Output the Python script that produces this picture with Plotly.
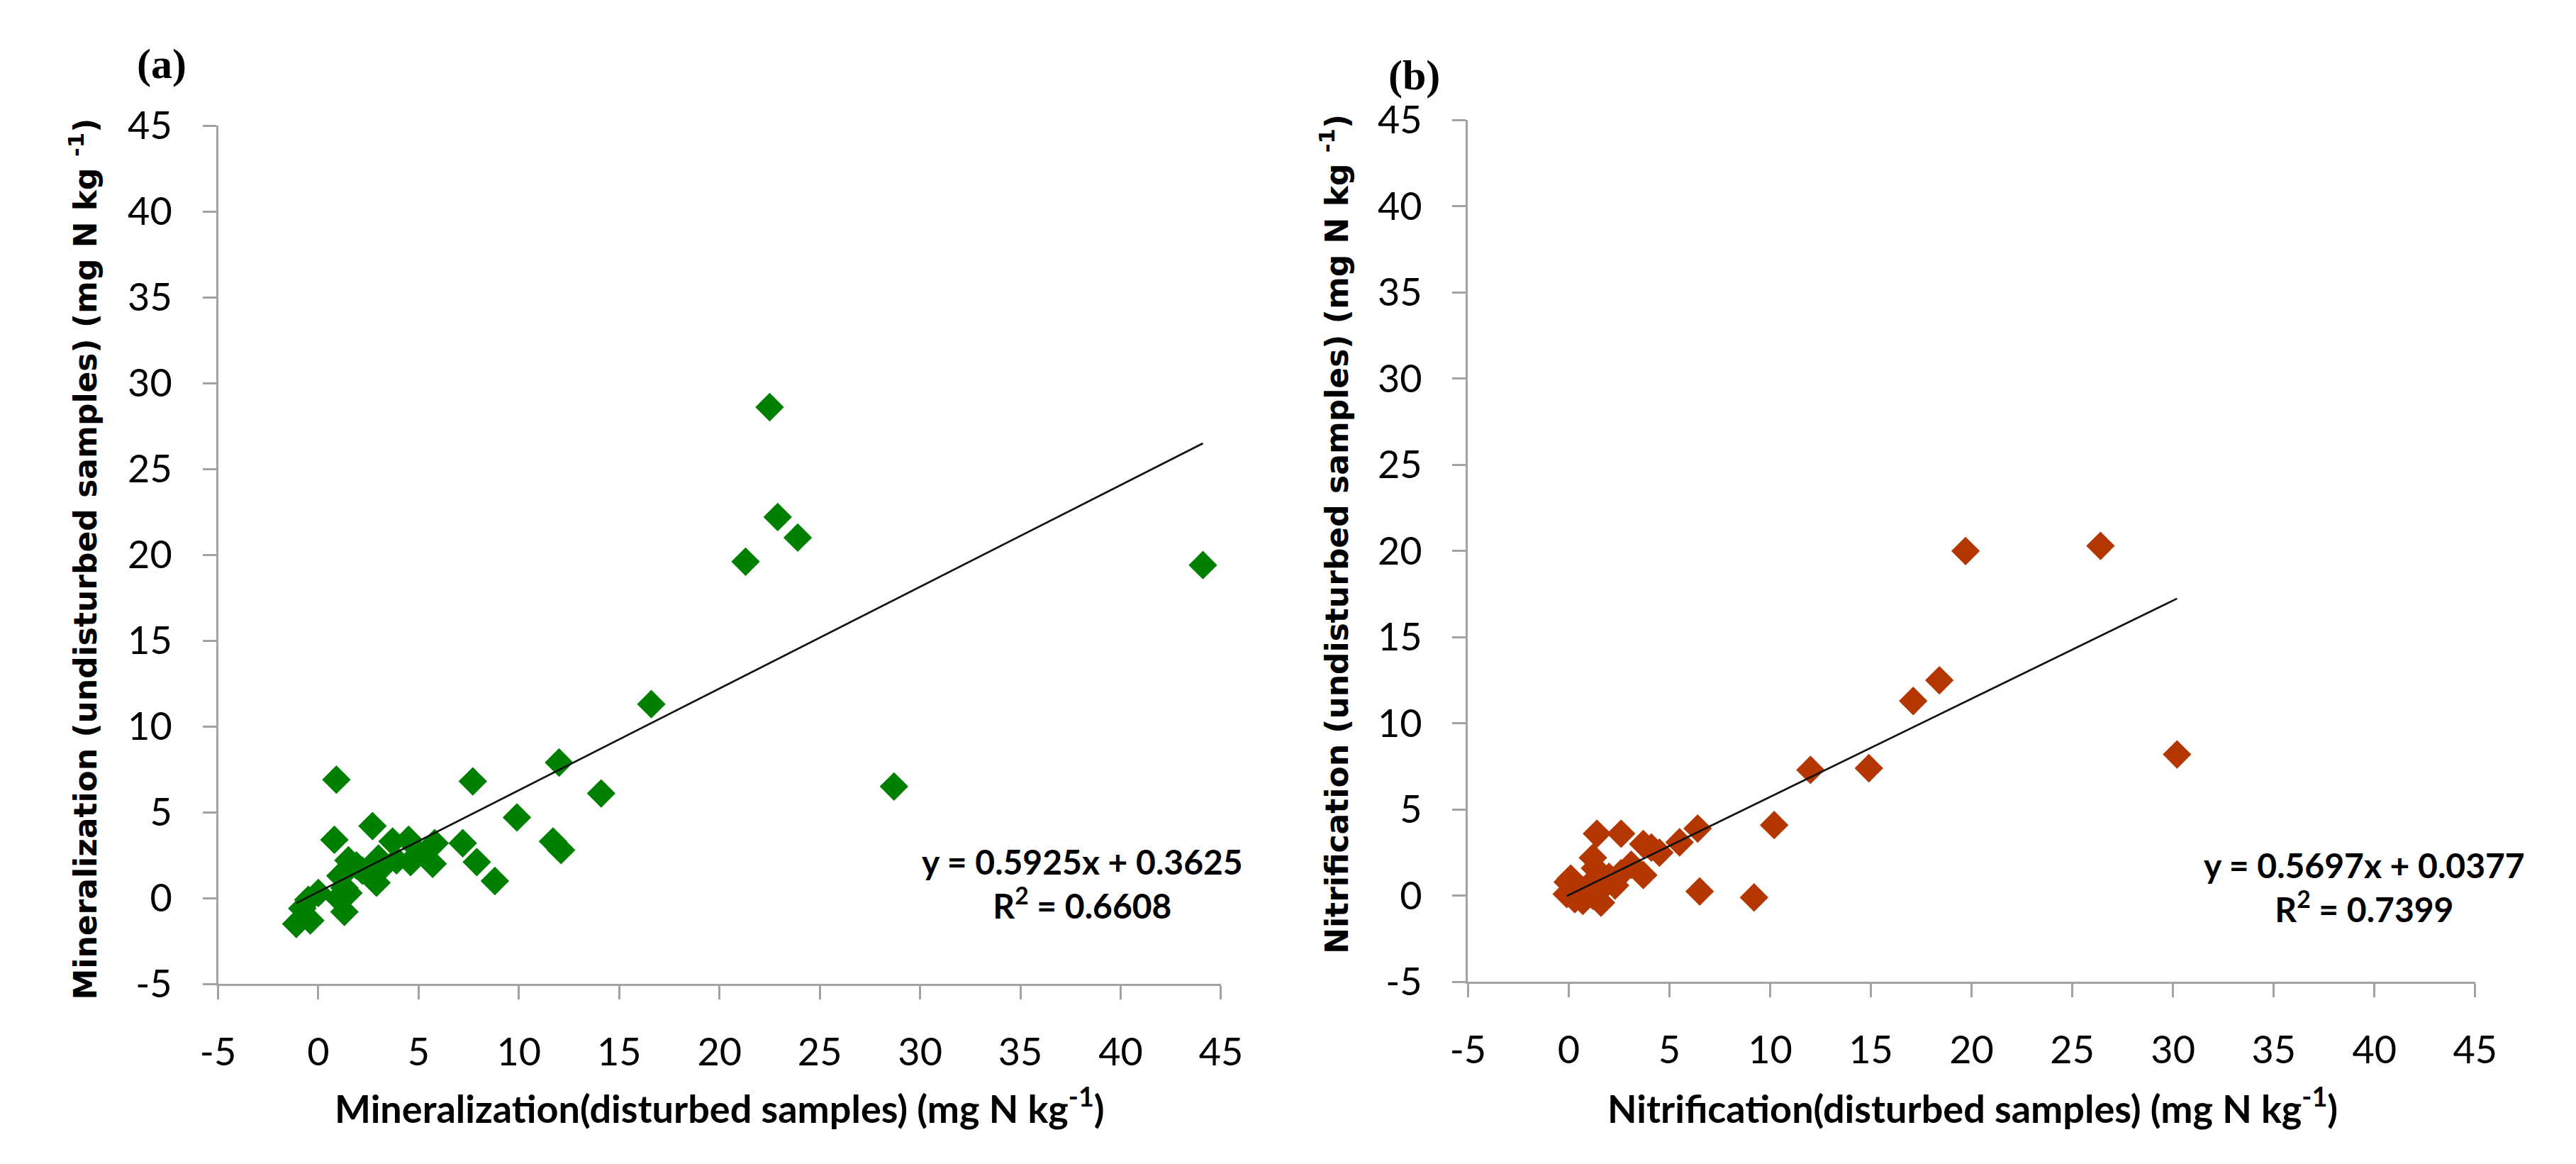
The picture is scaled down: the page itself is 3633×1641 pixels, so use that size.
import plotly.graph_objects as go

# ---------------- data ----------------
min_dist = [-1.1, -0.4, -0.8, -0.5, 0.0, 1.3, 1.0, 1.5, 1.3, 1.1, 1.4, 1.5, 1.9, 2.2,
            0.8, 0.9, 2.7, 2.9, 3.0, 3.1, 3.7, 3.9, 4.5, 4.6, 5.0, 5.7, 5.8, 7.2,
            7.7, 7.9, 8.8, 9.9, 11.7, 12.1, 12.0, 14.1, 16.6, 21.3, 22.5, 22.9,
            23.9, 28.7, 44.1]
min_undist = [-1.5, -1.3, -0.6, -0.1, 0.3, -0.8, 0.0, 0.3, 0.6, 1.3, 1.6, 2.2, 1.9, 1.6,
              3.4, 6.9, 4.2, 0.9, 2.3, 1.7, 3.3, 2.2, 3.4, 2.1, 2.6, 2.0, 3.2, 3.2,
              6.8, 2.1, 1.0, 4.7, 3.3, 2.8, 7.9, 6.1, 11.3, 19.6, 28.6, 22.2,
              21.0, 6.5, 19.4]

nit_dist = [-0.1, -0.05, 0.1, 0.3, 0.7, 0.6, 1.0, 1.2, 1.3, 1.2, 1.6, 1.7, 2.0, 1.4,
            2.6, 2.6, 2.3, 3.1, 3.7, 3.7, 4.1, 4.5, 5.5, 6.4, 6.5, 9.2, 10.2, 12.0,
            14.9, 17.1, 18.4, 19.7, 26.4, 30.2]
nit_undist = [0.1, 0.8, 1.0, -0.2, -0.3, 0.4, 0.6, 2.2, 1.6, 0.0, -0.4, 0.5, 1.1, 3.6,
              3.6, 1.3, 0.6, 1.8, 1.2, 3.0, 2.8, 2.5, 3.1, 3.9, 0.25, -0.1, 4.1, 7.3,
              7.4, 11.3, 12.5, 20.0, 20.3, 8.2]

fit_a = (0.5925, 0.3625, 0.6608)
fit_b = (0.5697, 0.0377, 0.7399)

tick_vals = [-5, 0, 5, 10, 15, 20, 25, 30, 35, 40, 45]
tick_text = ["-5", "0", "5", "10", "15", "20", "25", "30", "35", "40", "45"]

xtitle_a = "Mineralization(disturbed samples) (mg N kg<sup>-1</sup>)"
ytitle_a = "Mineralization (undisturbed samples) (mg N kg <sup>-1</sup>)"
xtitle_b = "Nitrification(disturbed samples) (mg N kg<sup>-1</sup>)"
ytitle_b = "Nitrification (undisturbed samples) (mg N kg <sup>-1</sup>)"

GREEN = "#008000"
BROWN = "#B43600"
AXC = "#A3A3A3"
FONT = "Lato"

W, H = 3633, 1641

fig = go.Figure()


def add_panel(xs, ys, fit, color, xa, ya):
    fig.add_trace(go.Scatter(
        x=xs, y=ys, mode="markers", xaxis=xa, yaxis=ya,
        marker=dict(symbol="diamond", size=31, color=color, line=dict(width=0)),
        showlegend=False, cliponaxis=False))
    slope, icpt, _ = fit
    x0, x1 = min(xs), max(xs)
    fig.add_trace(go.Scatter(
        x=[x0, x1], y=[slope * x0 + icpt, slope * x1 + icpt], mode="lines",
        xaxis=xa, yaxis=ya, line=dict(color="#111111", width=2.6),
        showlegend=False))


add_panel(min_dist, min_undist, fit_a, GREEN, "x", "y")
add_panel(nit_dist, nit_undist, fit_b, BROWN, "x2", "y2")

axis_common = dict(
    range=[-5, 45], tickvals=tick_vals, ticktext=tick_text,
    showgrid=False, zeroline=False,
    showline=True, linecolor=AXC, linewidth=3, ticks="outside",
    ticklen=19, tickwidth=3, tickcolor=AXC,
    tickfont=dict(family=FONT, size=54, color="#000000"),
)

fig.update_layout(
    width=W, height=H,
    margin=dict(l=0, r=0, t=0, b=0),
    paper_bgcolor="white", plot_bgcolor="white",
    xaxis=dict(domain=[286 / W, 1723 / W], anchor="y", ticklabelstandoff=28, **axis_common),
    yaxis=dict(domain=[1 - 1409 / H, 1 - 149 / H], anchor="x",
               ticklabelstandoff=32, **axis_common),
    xaxis2=dict(domain=[2077 / W, 3520 / W], anchor="y2", ticklabelstandoff=28, **axis_common),
    yaxis2=dict(domain=[1 - 1406 / H, 1 - 141 / H], anchor="x2",
                ticklabelstandoff=32, **axis_common),
)

annots = []
# panel labels
annots.append(dict(text="<b>(a)</b>", x=205 / W, y=1 - 58 / H, xref="paper", yref="paper",
                   showarrow=False, xanchor="center", yanchor="middle",
                   font=dict(family="Liberation Serif", size=60, color="#000")))
annots.append(dict(text="<b>(b)</b>", x=2000 / W, y=1 - 75 / H, xref="paper", yref="paper",
                   showarrow=False, xanchor="center", yanchor="middle",
                   font=dict(family="Liberation Serif", size=60, color="#000")))

# axis titles
for txt, x, y in [(xtitle_a, 1005 / W, 1 - 1588 / H), (xtitle_b, 2800 / W, 1 - 1588 / H)]:
    annots.append(dict(text="<b>" + txt + "</b>", x=x, y=y, xref="paper", yref="paper",
                       showarrow=False, xanchor="center", yanchor="middle",
                       font=dict(family=FONT, size=54, color="#000")))
for txt, x, y in [(ytitle_a, 93 / W, 1 - 785 / H), (ytitle_b, 1885 / W, 1 - 748 / H)]:
    annots.append(dict(text="<b>" + txt + "</b>", x=x, y=y, xref="paper", yref="paper",
                       showarrow=False, xanchor="center", yanchor="middle", textangle=-90,
                       font=dict(family="DejaVu Sans", size=44, color="#000")))

# regression equations
for fit, xr, yr, xc, yc in [(fit_a, "x", "y", 38.1, 0.85), (fit_b, "x2", "y2", 39.5, 0.52)]:
    slope, icpt, r2 = fit
    txt = f"<b>y = {slope:.4f}x + {icpt:.4f}<br>R<sup>2</sup> = {r2:.4f}</b>"
    annots.append(dict(text=txt, x=xc, y=yc, xref=xr, yref=yr, showarrow=False,
                       xanchor="center", yanchor="middle", align="center",
                       font=dict(family=FONT, size=48, color="#000")))

fig.update_layout(annotations=annots)

fig.write_html("out.html")
